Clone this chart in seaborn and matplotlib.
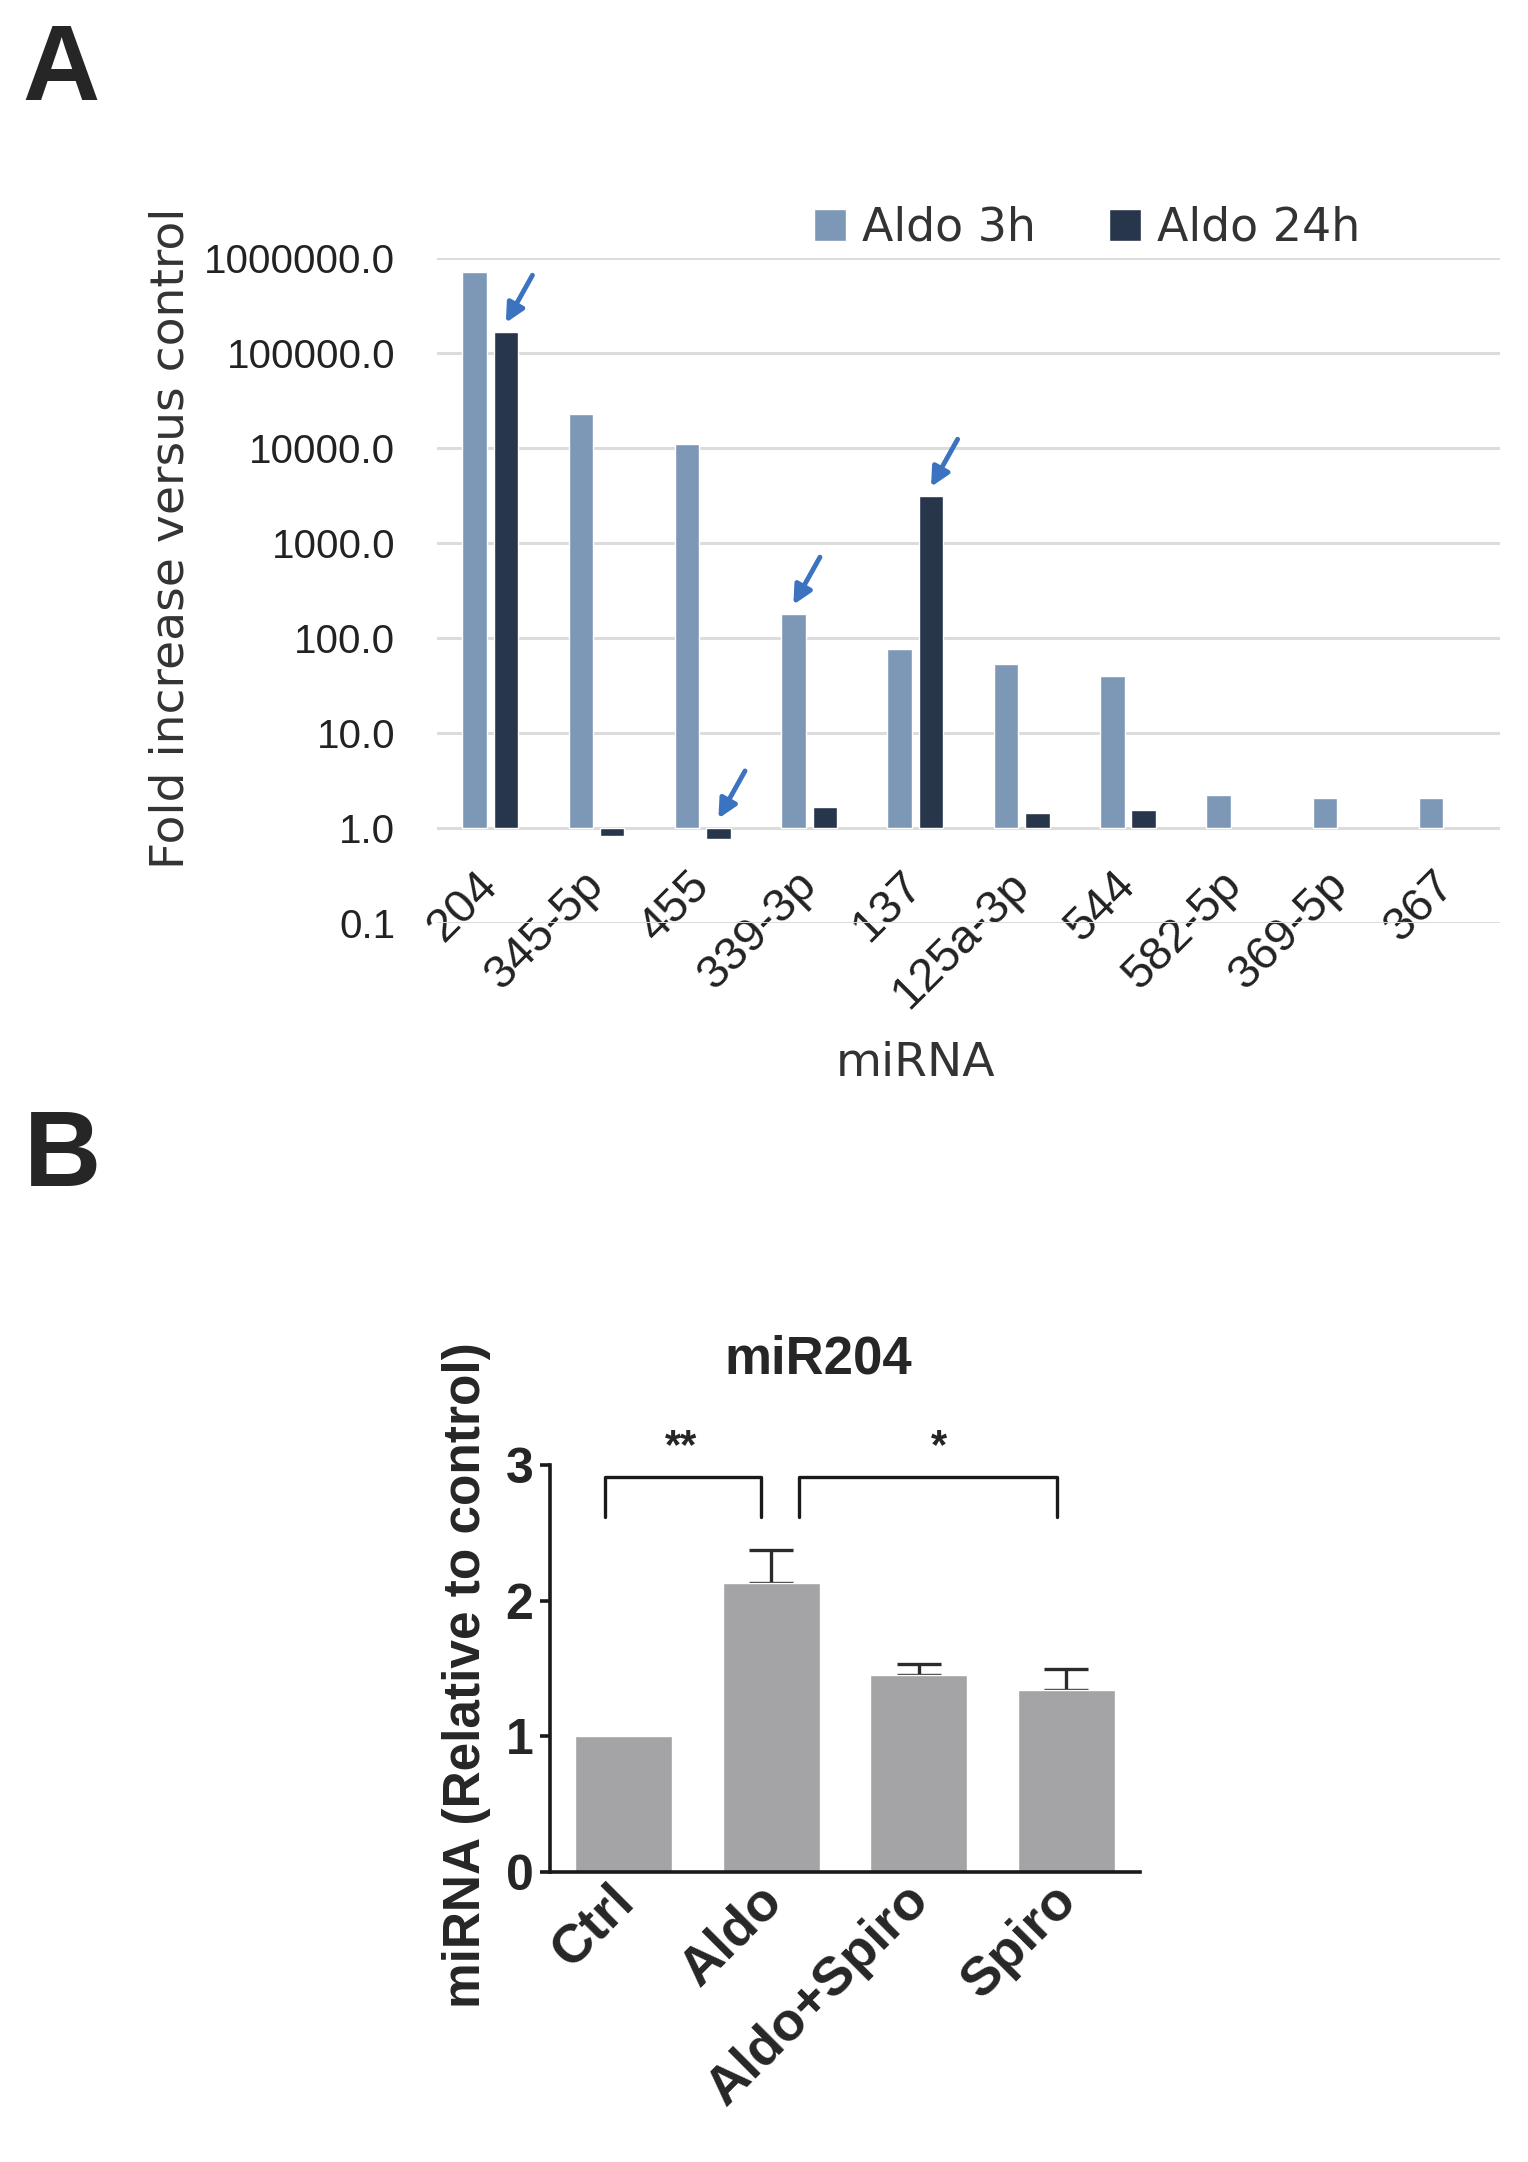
import numpy as np
import pandas as pd
import matplotlib
matplotlib.use('Agg')
import matplotlib.pyplot as plt
import matplotlib.transforms as mtransforms
import seaborn as sns

# ---- data: panel A (fold increase, log scale) ----
mirnas = ['204', '345-5p', '455', '339-3p', '137', '125a-3p', '544', '582-5p', '369-5p', '367']
aldo_3h = [710000, 23000, 11000, 178, 76, 53, 40, 2.2, 2.05, 2.05]
aldo_24h = [165000, 0.82, 0.77, 1.65, 3100, 1.45, 1.55, np.nan, np.nan, np.nan]
series = ['Aldo 3h', 'Aldo 24h']
arrow_marks = [('204', 'Aldo 24h'), ('455', 'Aldo 24h'), ('339-3p', 'Aldo 3h'), ('137', 'Aldo 24h')]

# ---- data: panel B (miR204 qPCR) ----
groups = ['Ctrl', 'Aldo', 'Aldo+Spiro', 'Spiro']
mir204_mean = [1.0, 2.13, 1.45, 1.34]
mir204_sem = [0.0, 0.24, 0.08, 0.16]

sns.set_style('white')
plt.rcParams['font.family'] = ['DejaVu Sans']

fig = plt.figure(figsize=(15.28, 21.62), dpi=100)

# ================= panel A =================
df = pd.DataFrame({
    'miRNA': mirnas * 2,
    'series': [series[0]] * len(mirnas) + [series[1]] * len(mirnas),
    'fold': aldo_3h + aldo_24h,
})
df['logfold'] = np.log10(df['fold'])

axA = fig.add_axes([0.286, 0.5731, 0.6957, 0.3076])
sns.barplot(data=df.dropna(), x='miRNA', y='logfold', hue='series', order=mirnas,
            hue_order=series, palette=['#7d98b6', '#27364b'], width=0.59, gap=0.22,
            errorbar=None, ax=axA, zorder=2, saturation=1)

axA.set_xlim(-0.5, len(mirnas) - 0.5)
axA.set_ylim(-1, 6)
yt = list(range(-1, 7))
axA.set_yticks(yt)
axA.set_yticklabels([f'{10.0 ** k:.1f}' for k in yt], family='Liberation Sans', fontsize=29)
axA.grid(axis='y', color='#dcdcdc', lw=2.2, zorder=0)
axA.grid(axis='x', visible=False)
for s in axA.spines.values():
    s.set_visible(False)
axA.tick_params(axis='y', length=0, pad=30, colors='#222222')
axA.tick_params(axis='x', length=0, pad=0, colors='#222222')
axA.set_xticks(range(len(mirnas)))
axA.set_xticklabels(mirnas, family='Liberation Sans', fontsize=34, rotation=45,
                    ha='right', va='top', rotation_mode='anchor')
offA = mtransforms.ScaledTranslation(-0.15, 0.60, fig.dpi_scale_trans)
for lab in axA.get_xticklabels():
    lab.set_transform(lab.get_transform() + offA)

axA.set_ylabel('Fold increase versus control', fontsize=34, color='#333333')
axA.yaxis.set_label_coords(-0.2286, 0.579)
axA.set_xlabel('miRNA', fontsize=34, color='#333333')
axA.xaxis.set_label_coords(0.45, -0.178)

sns.move_legend(axA, 'center left', bbox_to_anchor=(0.5327, 0.8945),
                bbox_transform=fig.transFigure, ncol=2, frameon=False, title=None,
                fontsize=33, handlelength=0.7, handleheight=0.7, handletextpad=0.35,
                columnspacing=1.6, borderpad=0, borderaxespad=0)
for t in axA.get_legend().get_texts():
    t.set_color('#333333')

# arrows pointing at highlighted bars
for mi, ser in arrow_marks:
    cont = axA.containers[series.index(ser)]
    ci = mirnas.index(mi)
    for p in cont.patches:
        xc = p.get_x() + p.get_width() / 2
        if round(xc) == ci:
            top = max(p.get_y(), p.get_y() + p.get_height())
            axA.annotate('', xy=(xc, top + 0.1), xytext=(xc + 0.25, top + 0.6),
                         arrowprops=dict(arrowstyle='-|>', color='#3b73c0', lw=3.5,
                                         mutation_scale=28, shrinkA=0, shrinkB=0),
                         zorder=5)

fig.text(0.0144, 0.9537, 'A', family='Liberation Sans', fontweight='bold', fontsize=77,
         ha='left', va='baseline')

# ================= panel B =================
dfb = pd.DataFrame({'group': groups, 'value': mir204_mean})
axB = fig.add_axes([0.36, 0.1341, 0.386, 0.1883])
sns.barplot(data=dfb, x='group', y='value', order=groups, color='#a4a4a6', width=0.66,
            errorbar=None, ax=axB, saturation=1)
bx = [p.get_x() + p.get_width() / 2 for p in axB.patches]
axB.errorbar(bx[1:], mir204_mean[1:], yerr=[np.zeros(3), mir204_sem[1:]], fmt='none',
             ecolor='#2b2b2b', elinewidth=2.4, capsize=16, capthick=2.4, zorder=0.5)

axB.set_xlim(-0.5, len(groups) - 0.5)
axB.set_ylim(0, 3)
axB.set_yticks([0, 1, 2, 3])
sns.despine(ax=axB)
for s in ['left', 'bottom']:
    axB.spines[s].set_linewidth(2.6)
    axB.spines[s].set_color('#1a1a1a')
axB.tick_params(axis='y', length=7, width=2.6, pad=5, direction='out', left=True,
                labelsize=36, color='#1a1a1a')
axB.tick_params(axis='x', length=0, pad=2, labelsize=39)
for lab in axB.get_yticklabels():
    lab.set_family('Liberation Sans')
    lab.set_fontweight('bold')
axB.set_xticks(range(len(groups)))
axB.set_xticklabels(groups, family='Liberation Sans', fontweight='bold', fontsize=39,
                    rotation=45, ha='right', va='top', rotation_mode='anchor')
offB = mtransforms.ScaledTranslation(-0.15, 0.0, fig.dpi_scale_trans)
for lab in axB.get_xticklabels():
    lab.set_transform(lab.get_transform() + offB)
axB.set_xlabel('')
axB.set_ylabel('miRNA (Relative to control)', family='Liberation Sans', fontweight='bold',
               fontsize=37)
axB.yaxis.set_label_coords(-0.10, 0.484)
axB.set_title('miR204', family='Liberation Sans', fontweight='bold', fontsize=38,
              x=0.454, y=1.204)

# significance brackets
for x0, x1, star, xs in [(-0.13, 0.93, '**', 0.39), (1.185, 2.94, '*', 2.14)]:
    axB.plot([x0, x0, x1, x1], [2.62, 2.915, 2.915, 2.62], color='#1a1a1a', lw=2.4,
             clip_on=False)
    axB.text(xs, 3.13, star, family='Liberation Sans', fontweight='bold', fontsize=30,
             ha='center', va='center', clip_on=False)

fig.text(0.0157, 1 - 1186 / 2162, 'B', family='Liberation Sans', fontweight='bold',
         fontsize=77, ha='left', va='baseline')

fig.savefig('out.png', dpi=100, facecolor='white')
